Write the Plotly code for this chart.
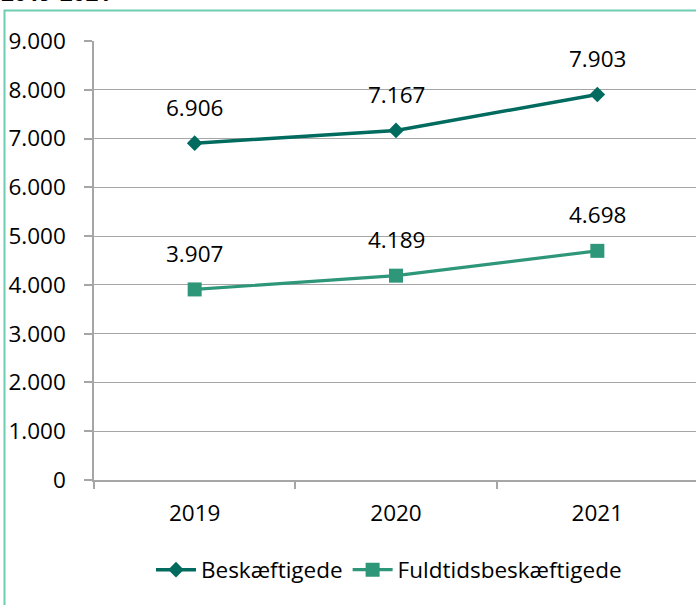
import plotly.graph_objects as go

years = ["2019", "2020", "2021"]
beskaeftigede = [6906, 7167, 7903]
fuldtid = [3907, 4189, 4698]
series_names = ["Beskæftigede", "Fuldtidsbeskæftigede"]
y_ticks = [0, 1000, 2000, 3000, 4000, 5000, 6000, 7000, 8000, 9000]
title_text = "2019-2021"

W, H = 696, 605
L, R, T, B = 94, 0, 41, 125
pw, ph = W - L - R, H - T - B

def px_to_paper_x(px):
    return (px - L) / pw

def px_to_paper_y(py):
    return (H - B - py) / ph

def fmt(v):
    return f"{v:,}".replace(",", ".")

FONT = "'Open Sans', Lato, sans-serif"
FS = 22.5
c1 = "#006B5E"
c2 = "#2E9679"

fig = go.Figure()
fig.add_trace(go.Scatter(
    x=years, y=beskaeftigede, name=series_names[0], mode="lines+markers",
    line=dict(color=c1, width=3.5),
    marker=dict(symbol="diamond", size=12, color=c1),
))
fig.add_trace(go.Scatter(
    x=years, y=fuldtid, name=series_names[1], mode="lines+markers",
    line=dict(color=c2, width=3.2),
    marker=dict(symbol="square", size=14, color=c2),
))

annotations = []
for series in (beskaeftigede, fuldtid):
    for i, v in enumerate(series):
        annotations.append(dict(
            x=i, y=v, xref="x", yref="y", text=fmt(v), showarrow=False,
            yanchor="middle", xanchor="center", yshift=36,
            font=dict(family=FONT, size=FS, color="#000000"),
        ))

annotations.append(dict(
    x=px_to_paper_x(-1), y=px_to_paper_y(9.5), xref="paper", yref="paper",
    text="<b>" + title_text + "</b>", showarrow=False,
    xanchor="left", yanchor="bottom",
    font=dict(family=FONT, size=FS, color="#000000"),
))

fig.update_layout(
    width=W, height=H,
    margin=dict(l=L, r=R, t=T, b=B),
    paper_bgcolor="white", plot_bgcolor="white",
    separators=",.",
    font=dict(family=FONT, size=FS, color="#000000"),
    showlegend=True,
    legend=dict(
        orientation="h", x=0.49, xanchor="center",
        y=px_to_paper_y(570), yanchor="middle",
        font=dict(family=FONT, size=FS, color="#000000"),
        itemwidth=40, tracegroupgap=0,
    ),
    annotations=annotations,
    shapes=[dict(
        type="rect", xref="paper", yref="paper",
        x0=px_to_paper_x(4.5), x1=px_to_paper_x(720),
        y0=px_to_paper_y(640), y1=px_to_paper_y(10.5),
        line=dict(color="#6DCDB3", width=2), fillcolor="rgba(0,0,0,0)",
        layer="below",
    )],
)

fig.update_xaxes(
    type="category", range=[-0.5, 2.49],
    showline=True, linecolor="#A6A6A6", linewidth=1.5,
    showgrid=False, ticks="outside", tickson="boundaries",
    ticklen=7, tickcolor="#A6A6A6", tickwidth=1.5,
    ticklabelstandoff=12,
    tickfont=dict(family=FONT, size=FS, color="#000000"),
)
fig.update_yaxes(
    range=[0, 9000], tickvals=y_ticks, tickformat=",d",
    showline=True, linecolor="#A6A6A6", linewidth=1.5,
    showgrid=True, gridcolor="#A6A6A6", gridwidth=1.3,
    ticks="outside", ticklen=8, tickcolor="#A6A6A6", tickwidth=1.5,
    ticklabelstandoff=14, zeroline=False,
    tickfont=dict(family=FONT, size=FS, color="#000000"),
)

fig.write_html("out.html", config={"displayModeBar": False},
               post_script="document.body.style.margin='0';")
